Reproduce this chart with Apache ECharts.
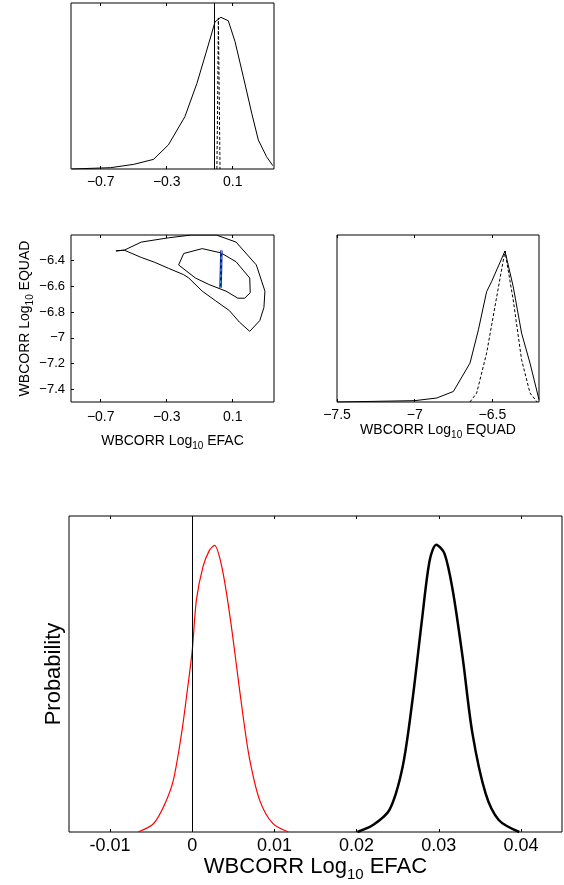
<!DOCTYPE html>
<html>
<head>
<meta charset="utf-8">
<script src="https://cdn.jsdelivr.net/npm/echarts@6/dist/echarts.min.js"></script>
<style>
  html, body { margin: 0; padding: 0; background: #fff; }
  #chart { width: 564px; height: 885px; }
</style>
</head>
<body>
<div id="chart"></div>
<script>
// ---- data ----
// top-left: 1D marginal of log10 EFAC
const efacPdf = [[-0.875,0],[-0.64,0.008],[-0.5,0.028],[-0.38,0.058],[-0.29,0.145],[-0.19,0.315],[-0.117,0.516],[-0.057,0.717],[-0.007,0.887],[0.028,0.914],[0.073,0.893],[0.114,0.767],[0.164,0.556],[0.215,0.336],[0.255,0.175],[0.305,0.074],[0.343,0.02]]
const efacPdfNarrow = [[0.004,0],[0.009,0.45],[0.013,0.91],[0.018,0.45],[0.023,0]]
const efacMarker = -0.012
const efacTicks = [-0.7, -0.3, 0.1]

// middle-left: 2D contours EFAC vs EQUAD
const contourOuter = [[-0.608,-6.324],[-0.557,-6.318],[-0.454,-6.255],[-0.29,-6.222],[-0.15,-6.2],[0.0,-6.2],[0.12,-6.255],[0.243,-6.433],[0.295,-6.637],[0.289,-6.764],[0.264,-6.866],[0.203,-6.95],[0.141,-6.879],[0.08,-6.789],[-0.003,-6.713],[-0.085,-6.637],[-0.166,-6.535],[-0.197,-6.509],[-0.29,-6.459],[-0.372,-6.413],[-0.454,-6.375],[-0.557,-6.318],[-0.608,-6.324]]
const contourInner = [[-0.228,-6.433],[-0.197,-6.344],[-0.085,-6.306],[0.028,-6.339],[0.12,-6.408],[0.203,-6.535],[0.206,-6.65],[0.172,-6.692],[0.131,-6.692],[0.059,-6.637],[-0.043,-6.586],[-0.126,-6.535],[-0.228,-6.433]]
const contourNarrow = [[0.031,-6.32],[0.029,-6.46],[0.026,-6.61]]
const equadTicks = [-7.4, -7.2, -7, -6.8, -6.6, -6.4]

// middle-right: 1D marginal of log10 EQUAD
const equadPdf = [[-7.5,0],[-7.0,0.008],[-6.858,0.024],[-6.751,0.063],[-6.644,0.233],[-6.59,0.432],[-6.537,0.661],[-6.505,0.721],[-6.419,0.904],[-6.366,0.691],[-6.312,0.412],[-6.258,0.233],[-6.2,0.014]]
const equadPdfNarrow = [[-6.644,0],[-6.601,0.054],[-6.537,0.293],[-6.472,0.631],[-6.419,0.904],[-6.366,0.611],[-6.312,0.253],[-6.258,0.054],[-6.212,0]]
const equadXTicks = [-7.5, -7, -6.5]

// bottom: histograms of log10 EFAC
const redHist = [[-0.0066,0],[-0.0047,0.027],[-0.0033,0.091],[-0.0023,0.164],[-0.0013,0.312],[-0.0007,0.428],[0,0.575],[0.0005,0.733],[0.0013,0.839],[0.0021,0.892],[0.0027,0.907],[0.0036,0.839],[0.0046,0.681],[0.0054,0.523],[0.0062,0.364],[0.007,0.228],[0.0082,0.101],[0.0098,0.027],[0.0117,0]]
const blackHist = [[0.0201,0],[0.022,0.022],[0.024,0.07],[0.0256,0.206],[0.0268,0.417],[0.028,0.681],[0.0289,0.86],[0.0297,0.909],[0.0307,0.881],[0.0317,0.765],[0.0329,0.554],[0.0341,0.312],[0.0357,0.122],[0.0373,0.038],[0.0398,0]]
const bottomMarker = 0
const bottomTicks = [-0.01, 0, 0.01, 0.02, 0.03, 0.04]

const FONT = 'Liberation Sans'
const minus = v => String(v).replace('-', '\u2212')

const chart = echarts.init(document.getElementById('chart'))

// x axis with inward ticks on bottom + a mirrored tick-only axis on top
// (box itself comes from the grid border)
function xPair(gi, min, max, ticks, opts) {
  const bottom = {
    gridIndex: gi, type: 'value', min: min, max: max, position: 'bottom',
    splitLine: { show: false },
    axisLine: { show: false, onZero: false },
    axisTick: { inside: true, length: 3, customValues: ticks, lineStyle: { color: '#000' } },
    axisLabel: { customValues: ticks, color: '#000', fontFamily: FONT, fontSize: opts.fontSize, margin: opts.margin, formatter: opts.formatter },
    name: opts.name, nameLocation: 'middle', nameGap: opts.nameGap,
    nameTextStyle: opts.nameStyle
  }
  const top = {
    gridIndex: gi, type: 'value', min: min, max: max, position: 'top',
    splitLine: { show: false },
    axisLine: { show: false, onZero: false },
    axisTick: { inside: true, length: 3, customValues: ticks, lineStyle: { color: '#000' } },
    axisLabel: { show: false }
  }
  return [bottom, top]
}

function plainY(gi, min, max, extra) {
  return Object.assign({
    gridIndex: gi, type: 'value', min: min, max: max,
    splitLine: { show: false },
    axisLine: { show: false, onZero: false },
    axisTick: { show: false },
    axisLabel: { show: false }
  }, extra || {})
}

const nameStyle = size => ({
  fontFamily: FONT, fontSize: size, color: '#000',
  rich: {
    t: { fontFamily: FONT, fontSize: size, color: '#000' },
    sub: { fontFamily: FONT, fontSize: Math.round(size * 0.68), color: '#000', padding: [Math.round(size * 0.7), 0, 0, 0] }
  }
})

const box = { show: true, borderColor: '#000', borderWidth: 1, backgroundColor: 'transparent' }

const xAxes = []
  .concat(xPair(0, -0.88, 0.35, efacTicks, { fontSize: 14, margin: 6, formatter: minus }))
  .concat(xPair(1, -0.88, 0.35, efacTicks, { fontSize: 14, margin: 8, formatter: minus,
    name: '{t|WBCORR Log}{sub|10}{t| EFAC}', nameGap: 29, nameStyle: nameStyle(14) }))
  .concat(xPair(2, -7.5, -6.2, equadXTicks, { fontSize: 14, margin: 6, formatter: minus,
    name: '{t|WBCORR Log}{sub|10}{t| EQUAD}', nameGap: 15, nameStyle: nameStyle(14) }))
  .concat(xPair(3, -0.015, 0.045, bottomTicks, { fontSize: 18, margin: 5, formatter: v => String(v),
    name: '{t|WBCORR Log}{sub|10}{t| EFAC}', nameGap: 20, nameStyle: nameStyle(22) }))

// the x axes come in pairs, so the series use the even indices
chart.setOption({
  animation: false,
  backgroundColor: '#fff',
  grid: [
    Object.assign({ left: 71, top: 3, width: 203, height: 166 }, box),
    Object.assign({ left: 71, top: 235, width: 203, height: 167 }, box),
    Object.assign({ left: 337, top: 235, width: 202, height: 167 }, box),
    Object.assign({ left: 69, top: 516, width: 493, height: 316 }, box)
  ],
  xAxis: xAxes,
  yAxis: [
    plainY(0, 0, 1),
    plainY(1, -7.5, -6.2, {
      axisTick: { show: true, inside: true, length: 3, customValues: equadTicks, lineStyle: { color: '#000' } },
      axisLabel: { show: true, customValues: equadTicks, color: '#000', fontFamily: FONT, fontSize: 13, margin: 6, formatter: minus },
      name: '{t|WBCORR Log}{sub|10}{t| EQUAD}', nameLocation: 'middle', nameGap: 36,
      nameTextStyle: nameStyle(14)
    }),
    plainY(2, 0, 1),
    plainY(3, 0, 1, {
      name: 'Probability', nameLocation: 'middle', nameGap: 4,
      nameTextStyle: { fontFamily: FONT, fontSize: 22, color: '#000' }
    })
  ],
  series: [
    {
      type: 'line', xAxisIndex: 0, yAxisIndex: 0, data: efacPdf, showSymbol: false,
      lineStyle: { color: '#000', width: 1 },
      markLine: {
        silent: true, symbol: 'none', label: { show: false },
        lineStyle: { color: '#000', width: 1, type: 'solid' },
        data: [{ xAxis: efacMarker }]
      }
    },
    {
      type: 'line', xAxisIndex: 0, yAxisIndex: 0, data: efacPdfNarrow, showSymbol: false,
      lineStyle: { color: '#000', width: 1, type: [3, 2] }
    },
    {
      type: 'line', xAxisIndex: 2, yAxisIndex: 1, data: contourOuter, showSymbol: false,
      lineStyle: { color: '#000', width: 1 }
    },
    {
      type: 'line', xAxisIndex: 2, yAxisIndex: 1, data: contourInner, showSymbol: false,
      lineStyle: { color: '#000', width: 1 }
    },
    {
      type: 'line', xAxisIndex: 2, yAxisIndex: 1, data: contourNarrow, showSymbol: false,
      lineStyle: { color: '#0a1a8c', width: 2.5 }
    },
    {
      type: 'line', xAxisIndex: 2, yAxisIndex: 1, data: contourNarrow, showSymbol: false,
      lineStyle: { color: '#35c8e8', width: 1, type: [3, 3] }
    },
    {
      type: 'line', xAxisIndex: 4, yAxisIndex: 2, data: equadPdf, showSymbol: false,
      lineStyle: { color: '#000', width: 1 }
    },
    {
      type: 'line', xAxisIndex: 4, yAxisIndex: 2, data: equadPdfNarrow, showSymbol: false,
      lineStyle: { color: '#000', width: 1, type: [3, 2] }
    },
    {
      type: 'line', xAxisIndex: 6, yAxisIndex: 3, data: redHist, showSymbol: false, smooth: 0.3,
      lineStyle: { color: '#ff0000', width: 1.2 },
      markLine: {
        silent: true, symbol: 'none', label: { show: false },
        lineStyle: { color: '#000', width: 1, type: 'solid' },
        data: [{ xAxis: bottomMarker }]
      }
    },
    {
      type: 'line', xAxisIndex: 6, yAxisIndex: 3, data: blackHist, showSymbol: false, smooth: 0.3,
      lineStyle: { color: '#000', width: 2.5 }
    }
  ]
})
</script>
</body>
</html>
